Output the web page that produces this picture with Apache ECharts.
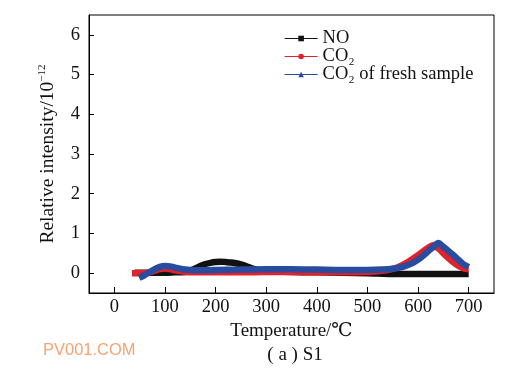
<!DOCTYPE html>
<html>
<head>
<meta charset="utf-8">
<script src="https://cdn.jsdelivr.net/npm/echarts@6/dist/echarts.min.js"></script>
<style>html,body{margin:0;padding:0;background:#fff}#c{width:513px;height:373px}</style>
</head>
<body>
<div id="c"></div>
<script>
// ---- data ----
const seriesNames = ['NO', 'CO₂', 'CO₂ of fresh sample'];
const xTicks = [0, 100, 200, 300, 400, 500, 600, 700];
const yTicks = [0, 1, 2, 3, 4, 5, 6];

const tempNO = [40, 60, 80, 100, 120, 140, 150, 160, 170, 180, 190, 200, 210, 220, 230, 240, 250, 260, 270, 280, 290, 300, 350, 400, 450, 500, 550, 600, 650, 700];
const valNO  = [0.01, 0.01, 0.01, 0.01, 0.02, 0.03, 0.06, 0.12, 0.18, 0.23, 0.26, 0.28, 0.29, 0.28, 0.27, 0.25, 0.22, 0.18, 0.13, 0.09, 0.06, 0.04, 0.03, 0.02, 0.01, 0.0, -0.02, -0.02, -0.02, -0.02];

const tempCO2 = [35, 50, 60, 70, 80, 90, 100, 110, 120, 130, 140, 150, 170, 200, 250, 300, 350, 400, 450, 500, 520, 540, 560, 580, 600, 610, 620, 630, 640, 650, 660, 670, 680, 690, 700];
const valCO2  = [0.0, 0.0, 0.0, 0.02, 0.06, 0.1, 0.12, 0.1, 0.07, 0.05, 0.03, 0.02, 0.02, 0.02, 0.02, 0.03, 0.03, 0.02, 0.02, 0.03, 0.05, 0.08, 0.15, 0.28, 0.45, 0.55, 0.64, 0.70, 0.62, 0.50, 0.38, 0.27, 0.18, 0.12, 0.10];

const tempFresh = [49, 60, 70, 80, 90, 100, 110, 120, 130, 140, 150, 170, 200, 250, 300, 350, 400, 450, 500, 530, 550, 570, 590, 600, 610, 620, 630, 640, 650, 660, 670, 680, 690, 700];
const valFresh  = [-0.12, -0.05, 0.03, 0.1, 0.16, 0.18, 0.17, 0.14, 0.11, 0.09, 0.08, 0.07, 0.08, 0.09, 0.1, 0.1, 0.09, 0.08, 0.08, 0.09, 0.11, 0.16, 0.26, 0.34, 0.44, 0.55, 0.66, 0.76, 0.66, 0.56, 0.45, 0.33, 0.22, 0.15];

const colors = ['#111111', '#e3212b', '#2a4c9f'];
const symbols = ['rect', 'circle', 'triangle'];

function pairs(xs, ys) { return xs.map((x, i) => [x, ys[i]]); }
const serif = '"Liberation Serif", "DejaVu Serif", serif';

const chart = echarts.init(document.getElementById('c'), null, {renderer: 'canvas'});
const dataSets = [pairs(tempNO, valNO), pairs(tempCO2, valCO2), pairs(tempFresh, valFresh)];

chart.setOption({
  animation: false,
  backgroundColor: '#fff',
  grid: {left: 89, top: 15, right: 19, bottom: 80, show: true, borderColor: '#000', borderWidth: 1, backgroundColor: 'transparent'},
  legend: {
    left: 279, top: 24, orient: 'vertical', itemGap: -1, itemWidth: 33, itemHeight: 7,
    data: seriesNames,
    lineStyle: {width: 1.2},
    textStyle: {fontFamily: serif, fontSize: 18.5, color: '#111'}
  },
  title: [{
    text: '( a ) S1', left: 290, top: 341, textAlign: 'center',
    textStyle: {fontFamily: serif, fontSize: 19, fontWeight: 'normal', color: '#111'}
  }, {
    text: 'PV001.COM', left: 38, top: 337,
    textStyle: {fontFamily: '"Liberation Sans", Arial, sans-serif', fontSize: 16.5, fontWeight: 'normal', color: '#f4a472'}
  }],
  xAxis: {
    type: 'value', min: -50, max: 750,
    name: 'Temperature/℃', nameLocation: 'middle', nameGap: 28,
    nameTextStyle: {fontFamily: serif, fontSize: 19, color: '#111'},
    axisLine: {show: true, onZero: false, lineStyle: {color: '#000', width: 1}},
    axisTick: {show: true, inside: true, length: 6, lineStyle: {color: '#000'}, customValues: xTicks},
    axisLabel: {fontFamily: serif, fontSize: 18.5, color: '#111', margin: 5, customValues: xTicks},
    splitLine: {show: false}
  },
  yAxis: {
    type: 'value', min: -0.5, max: 6.5,
    name: 'Relative intensity/10{sup|−12}', nameLocation: 'middle', nameGap: 31,
    nameTextStyle: {fontFamily: serif, fontSize: 19.5, color: '#111',
      rich: {sup: {fontFamily: serif, fontSize: 11, color: '#111', padding: [0, 0, 10, 0]}}},
    axisLine: {show: true, onZero: false, lineStyle: {color: '#000', width: 1}},
    axisTick: {show: true, inside: true, length: 5, lineStyle: {color: '#000'}, customValues: yTicks},
    axisLabel: {fontFamily: serif, fontSize: 18.5, color: '#111', margin: 9, customValues: yTicks},
    splitLine: {show: false}
  },
  series: seriesNames.map((n, i) => ({
    name: n, type: 'line', data: dataSets[i],
    symbol: symbols[i], symbolSize: 7, showSymbol: false,
    smooth: 0.3,
    lineStyle: {width: 6.5, color: colors[i]},
    itemStyle: {color: colors[i]},
    z: 2 + i
  }))
});
</script>
</body>
</html>
